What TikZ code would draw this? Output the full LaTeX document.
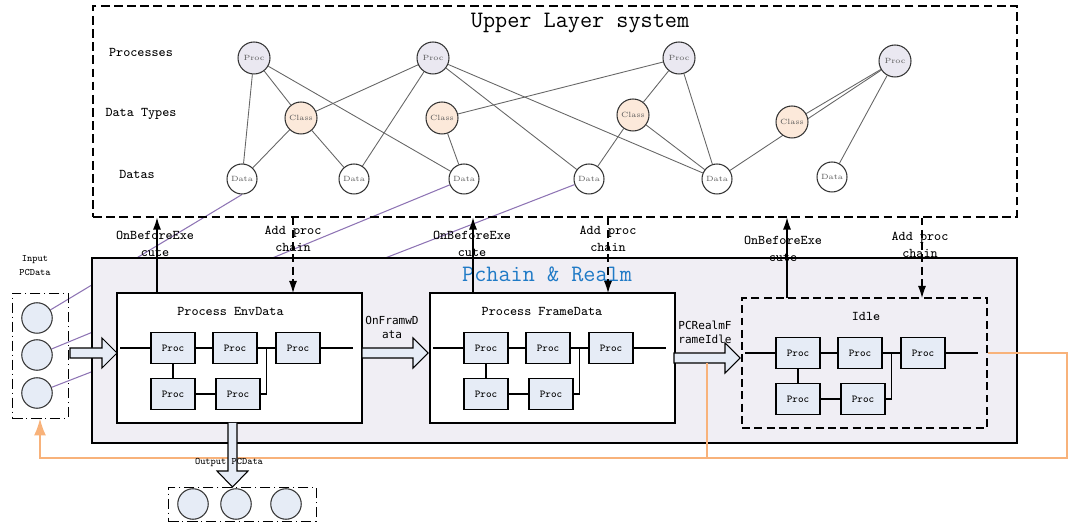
\documentclass[tikz,border=0pt]{standalone}
\usepackage{fontspec}
\newfontfamily\sansmono{DejaVu Sans Mono}
\usetikzlibrary{arrows.meta,backgrounds,calc,fit}
\definecolor{procfill}{HTML}{EAE8F1}
\definecolor{classfill}{HTML}{FCE9DA}
\definecolor{boxfill}{HTML}{E6ECF6}
\definecolor{realmfill}{HTML}{F0EEF4}
\definecolor{linkpurple}{HTML}{8E74B4}
\definecolor{fborange}{HTML}{F8B27A}
\definecolor{realmblue}{HTML}{1F7AC6}
\newcommand{\setfs}[2]{\fontsize{#1}{#2}\selectfont}
\newcommand{\harrow}[3]{\draw[blk] (#1,#3-5) -- (#2-15,#3-5) -- (#2-15,#3-15) -- (#2,#3) -- (#2-15,#3+15) -- (#2-15,#3+5) -- (#1,#3+5) -- cycle;}

\begin{document}
\begin{tikzpicture}[x=0.02cm,y=-0.02cm,line width=0.6pt,
    procc/.style={circle,draw=black!80,fill=procfill,minimum size=0.64cm,inner sep=0,text=black!65,font=\rmfamily\setfs{4.3}{5}},
    classc/.style={procc,fill=classfill},
    datac/.style={procc,fill=white,minimum size=0.6cm},
    glink/.style={draw=black!60,line width=0.5pt},
    plink/.style={draw=linkpurple,line width=0.6pt},
    pbox/.style={draw,fill=boxfill,minimum width=0.88cm,minimum height=0.62cm,inner sep=0,font=\ttfamily\setfs{6}{7}},
    cont/.style={draw,fill=white,inner sep=0},
    iocirc/.style={circle,draw=black!80,fill=boxfill,minimum size=0.61cm,inner sep=0},
    dashdot/.style={line width=0.5pt,dash pattern=on 6pt off 2pt on 0.8pt off 2pt},
    lbl/.style={font=\ttfamily\setfs{7.6}{9.7},align=center},
    blk/.style={draw,fill=boxfill},
    fb/.style={draw=fborange,line width=1.1pt},
    uparr/.style={-{Latex[length=0.24cm,width=0.16cm]}}]
\useasboundingbox (0,0) rectangle (1081,526);

\node[draw,dash pattern=on 5pt off 2.5pt,fit={(93,6) (1017,217)},inner sep=0] (upper) {};
\node[font=\ttfamily\setfs{13.4}{15}] at (580,23) {Upper Layer system};
\node[lbl] at (141,52) {Processes};
\node[lbl] at (141,114) {Data Types};
\node[lbl] at (137,174) {Datas};

\node[procc] (p1) at (254,58) {Proc};
\node[procc] (p2) at (433,58) {Proc};
\node[procc] (p3) at (679,58) {Proc};
\node[procc] (p4) at (895,61) {Proc};
\node[classc] (c1) at (301,118) {Class};
\node[classc] (c2) at (442,118) {Class};
\node[classc] (c3) at (633,115) {Class};
\node[classc] (c4) at (792,122) {Class};
\node[datac] (d1) at (242,179) {Data};
\node[datac] (d2) at (354,179) {Data};
\node[datac] (d3) at (464,179) {Data};
\node[datac] (d4) at (589,179) {Data};
\node[datac] (d5) at (717,179) {Data};
\node[datac] (d6) at (832,177) {Data};

\node[draw,dashdot,fit={(12,293) (68,418)},inner sep=0] (inbox) {};
\node[iocirc] (in1) at (37,318) {};
\node[iocirc] (in2) at (37,355) {};
\node[iocirc] (in3) at (37,393) {};
\node[font=\ttfamily\setfs{5.6}{8},align=center] at (35,266) {Input\\PCData};

\begin{scope}[on background layer]
\foreach \a/\b in {p1/d1,p1/c1,p1/d3,c1/p2,c1/d1,c1/d2,p2/d2,p2/d4,p2/d5,c2/p3,c2/d3,p3/c3,p3/d5,c3/d4,c3/d5,p4/c4,p4/d5,p4/d6}
  \draw[glink] (\a) -- (\b);
\draw[plink] (d1.south) -- (in1);
\draw[plink] (d3) -- (in2);
\draw[plink] (d4) -- (in3);
\end{scope}

\node[draw,fill=realmfill,fit={(92,258) (1017,443)},inner sep=0] (realm) {};
\node[text=realmblue,font=\ttfamily\setfs{13.4}{15}] at (547,274) {Pchain \& Realm};

\node[cont,fit={(117,293) (362,423)}] (env) {};
\node[cont,fit={(430,293) (675,423)}] (frm) {};
\node[draw,dash pattern=on 4.5pt off 2.5pt,fit={(742,298) (987,428)},inner sep=0] (idle) {};
\node[lbl] at (230.5,311) {Process EnvData};
\node[lbl] at (542,311) {Process FrameData};
\node[lbl] at (866,316) {Idle};

\foreach \g/\x/\y in {e/117/293,f/430/293,q/742/298} {
  \node[pbox] (\g1) at (\x+56,\y+55) {Proc};
  \node[pbox] (\g2) at (\x+118,\y+55) {Proc};
  \node[pbox] (\g3) at (\x+181,\y+55) {Proc};
  \node[pbox] (\g4) at (\x+56,\y+101) {Proc};
  \node[pbox] (\g5) at (\x+121,\y+101) {Proc};
  \draw (\x+3,\y+55) -- (\g1) -- (\g2) -- (\g3) -- (\x+236,\y+55);
  \draw (\g1) -- (\g4) -- (\g5);
  \draw (\g5.east) -| ($(\g2.east)!.5!(\g3.west)$);
}

\harrow{70}{117}{353}
\harrow{362}{428}{353}
\harrow{674}{740}{358}
\node[lbl,font=\sansmono\setfs{6.3}{8}] at (392,327) {OnFramwD\\ata};
\node[lbl,font=\sansmono\setfs{6.3}{8}] at (705,332) {PCRealmF\\rameIdle};

\coordinate (ob1) at (157,293);
\coordinate (ob2) at (473,293);
\coordinate (ob3) at (787,298);
\coordinate (ap1) at (293,293);
\coordinate (ap2) at (608,293);
\coordinate (ap3) at (922,298);
\foreach \c in {ob1,ob2,ob3}
  \draw[uparr] (\c) -- (\c |- upper.south);
\foreach \c in {ap1,ap2,ap3}
  \draw[uparr,dash pattern=on 4.5pt off 2.5pt] (\c |- upper.south) -- (\c);
\node[lbl] at (155,243.5) {OnBeforeExe\\cute};
\node[lbl] at (472,243.5) {OnBeforeExe\\cute};
\node[lbl] at (783,248.5) {OnBeforeExe\\cute};
\node[lbl] at (293,238.5) {Add proc\\chain};
\node[lbl] at (608,238.5) {Add proc\\chain};
\node[lbl] at (920,244.5) {Add proc\\chain};

\draw[fb,-{Latex[length=0.34cm,width=0.24cm]}] (q3 -| idle.east) -| (1067,458) -| (inbox.south);
\draw[fb] (707,363) -- (707,458);

\node[draw,dashdot,fit={(168,487) (316,521)},inner sep=0] (outbox) {};
\node[iocirc] (o1) at (193,504) {};
\node[iocirc] (o2) at (236,504) {};
\node[iocirc] (o3) at (286,504) {};
\draw[blk] (228,423) -- (228,471) -- (217,471) -- (232.5,487) -- (248,471) -- (237,471) -- (237,423);
\node[font=\ttfamily\setfs{5.6}{6}] at (229,463) {Output PCData};
\end{tikzpicture}
\end{document}
